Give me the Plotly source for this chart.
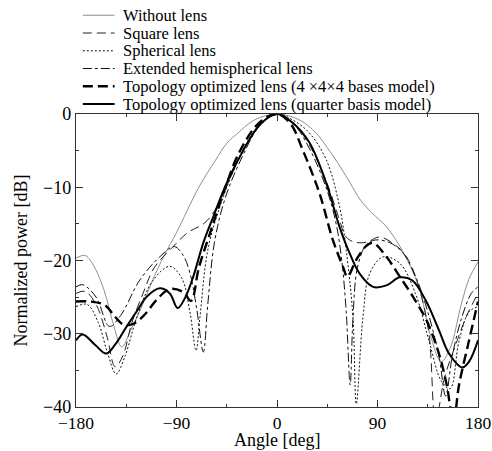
import plotly.graph_objects as go

# Radiation patterns: angle [deg] vs normalized power [dB]
names = [
    "Without lens",
    "Square lens",
    "Spherical lens",
    "Extended hemispherical lens",
    "Topology optimized lens (4 \u00d74\u00d74 bases model)",
    "Topology optimized lens (quarter basis model)",
]

ang_without = [-180, -172, -165, -155, -146, -139, -131, -122, -110, -100, -90, -70, -55, -45,
               -35, -20, 0, 20, 35, 45, 55, 65, 75, 85, 98, 112, 127, 137, 147, 155, 165, 172, 180]
db_without = [-19.7, -19.3, -20.5, -24, -29, -31.8, -29.5, -26.6, -22.2, -19, -16.2, -10, -6.3, -4,
              -2.6, -0.8, 0, -0.8, -2.6, -4.6, -6.8, -9.3, -11.8, -13.5, -15.4, -18.6, -23.6, -30,
              -33.8, -32, -26, -22.5, -20.2]

ang_square = [-180, -172, -162, -152, -145, -138, -130, -120, -110, -93, -80, -65, -55, -45, -30,
              -15, 0, 15, 30, 45, 55, 62, 70, 80, 92, 105, 116, 127, 136, 142, 150, 160, 170, 180]
db_square = [-24.5, -24.2, -26, -30.5, -34.5, -33, -28.5, -24.5, -21, -18.1, -16.2, -14.9, -13,
             -9.8, -4.8, -1.4, 0, -1.3, -4.5, -9.5, -14, -16.8, -17.5, -17.5, -16.8, -17.8, -19.5,
             -23.6, -29.9, -42, -36, -31.5, -27.5, -24.5]

ang_spherical = [-180, -170, -160, -152, -144, -136, -125, -111, -96, -85, -78, -72.5, -69, -62,
                 -51, -37, -19, 0, 15, 29, 44, 56, 62, 68, 71, 77, 83, 95, 110, 124, 136, 147,
                 155, 163, 172, 180]
db_spherical = [-26.3, -26, -28.5, -32.5, -35.5, -33, -27.5, -22.7, -20.8, -22.5, -27, -32.3,
                -27.7, -18.6, -12.6, -7.1, -2.1, 0, -0.9, -2.6, -6.2, -12.6, -18.6, -27.7, -39.6,
                -27.7, -21.8, -19.5, -20.4, -24.5, -30.9, -36.4, -37.5, -31, -27, -26.3]

ang_hemi = [-180, -174, -162, -150, -140, -123, -105, -92, -84, -78, -72, -66, -62, -56, -46,
            -31, -16, 0, 15, 30, 45, 53, 58, 62, 65.5, 68, 72, 80, 88, 100, 112, 125, 135, 145,
            151, 157, 165, 174, 180]
db_hemi = [-23.6, -23.3, -25, -29, -27.5, -22.7, -19.5, -18.1, -19.3, -21.7, -26.5, -32.5, -26,
           -17.5, -11.3, -5.8, -1.7, 0, -1.4, -5, -10.5, -15, -20, -27, -37, -28, -21, -17.8,
           -17.2, -17.5, -18.8, -22.5, -27, -33, -38.5, -33, -28, -24.5, -23.6]

ang_topo444 = [-180, -167, -154, -146, -137, -128, -118, -108, -96, -84, -77, -70, -60, -48,
               -34, -16, 0, 12, 23, 38, 50, 59, 63, 71, 80, 86, 98, 110, 122, 134, 145, 152,
               158, 163, 172, 180]
db_topo444 = [-25.6, -25.6, -26.1, -27.5, -28.8, -28.6, -27.3, -25.4, -23.9, -24.3, -25.5, -21,
              -16.3, -10.8, -5.3, -1.2, 0, -1.3, -4.9, -10.8, -17.2, -20.8, -22.2, -19.9, -18,
              -17.6, -19.5, -22.2, -25, -28.2, -32.7, -37, -42, -37, -30.9, -25.6]

ang_quarter = [-180, -174, -163, -153, -145, -135, -125, -117, -105, -96, -89, -82, -75, -66,
               -57, -45, -30, -15, 0, 14, 29, 44, 56, 65, 74, 86, 98, 110, 121, 133, 145, 154,
               166, 172, 180]
db_quarter = [-30.9, -30.1, -31.5, -32.7, -31.5, -29.1, -26.8, -25, -23.8, -24.5, -26.5, -25,
              -22.2, -17.6, -14, -9.4, -4.9, -1.4, 0, -1.2, -3.9, -9.4, -15.4, -19, -21.8, -23.6,
              -23.4, -22.3, -22.7, -25.4, -29.5, -32.7, -34.6, -33.8, -30.9]

series = [
    (ang_without, db_without),
    (ang_square, db_square),
    (ang_spherical, db_spherical),
    (ang_hemi, db_hemi),
    (ang_topo444, db_topo444),
    (ang_quarter, db_quarter),
]

# line styles: (colour, width, dash)
styles = [
    ("#8f8f8f", 1.0, "solid"),
    ("#222222", 1.0, "9px,5px"),
    ("#111111", 1.0, "2px,2px"),
    ("#111111", 1.0, "9px,3px,3px,3px"),
    ("#000000", 2.4, "10px,5px"),
    ("#000000", 2.0, "solid"),
]

FONT = "Liberation Serif, Times New Roman, serif"

fig = go.Figure()
for name, (ang, db), (col, w, dash) in zip(names, series, styles):
    fig.add_trace(go.Scatter(
        x=ang, y=db, name=name, mode="lines",
        line=dict(color=col, width=w, dash=dash, shape="spline", smoothing=1.0),
        showlegend=False,
    ))

# legend block above the plot area
row0, row_step = 1.337, 0.0606
for i, (name, (col, w, dash)) in enumerate(zip(names, styles)):
    yy = row0 - i * row_step
    fig.add_shape(type="line", xref="paper", yref="paper",
                  x0=0.017, x1=0.096, y0=yy, y1=yy,
                  line=dict(color=col, width=w, dash=dash))
    fig.add_annotation(xref="paper", yref="paper", x=0.115, y=yy, text=name,
                       showarrow=False, xanchor="left", yanchor="middle", borderpad=0,
                       font=dict(family=FONT, size=16.5, color="#000"))

# x-axis title, set just below the tick labels
fig.add_annotation(xref="paper", yref="paper", x=0.5, y=-0.111, text="Angle [deg]",
                   showarrow=False, xanchor="center", yanchor="middle", borderpad=0,
                   font=dict(family=FONT, size=18, color="#000"))

axis_common = dict(
    showline=True, linecolor="#333", linewidth=1.3, mirror="ticks",
    ticks="inside", ticklen=7, tickwidth=1, tickcolor="#333",
    showgrid=False, zeroline=False,
)

fig.update_xaxes(
    range=[-180, 180], tickvals=[-180, -90, 0, 90, 180],
    minor=dict(dtick=45, ticks="inside", ticklen=3, tickcolor="#333", showgrid=False),
    tickfont=dict(family=FONT, size=17.5, color="#000"),
    **axis_common,
)
fig.update_yaxes(
    range=[-40, 0], tickvals=[-40, -30, -20, -10, 0],
    minor=dict(dtick=5, ticks="inside", ticklen=3, tickcolor="#333", showgrid=False),
    tickfont=dict(family=FONT, size=18, color="#000"),
    title=dict(text="Normalized power [dB]", font=dict(family=FONT, size=18, color="#000"), standoff=10),
    **axis_common,
)

fig.update_layout(
    width=492, height=451,
    margin=dict(l=76, r=14, t=114, b=44, autoexpand=False),
    paper_bgcolor="white", plot_bgcolor="white",
    font=dict(family=FONT, color="#000"),
)

fig.write_html("out.html")
